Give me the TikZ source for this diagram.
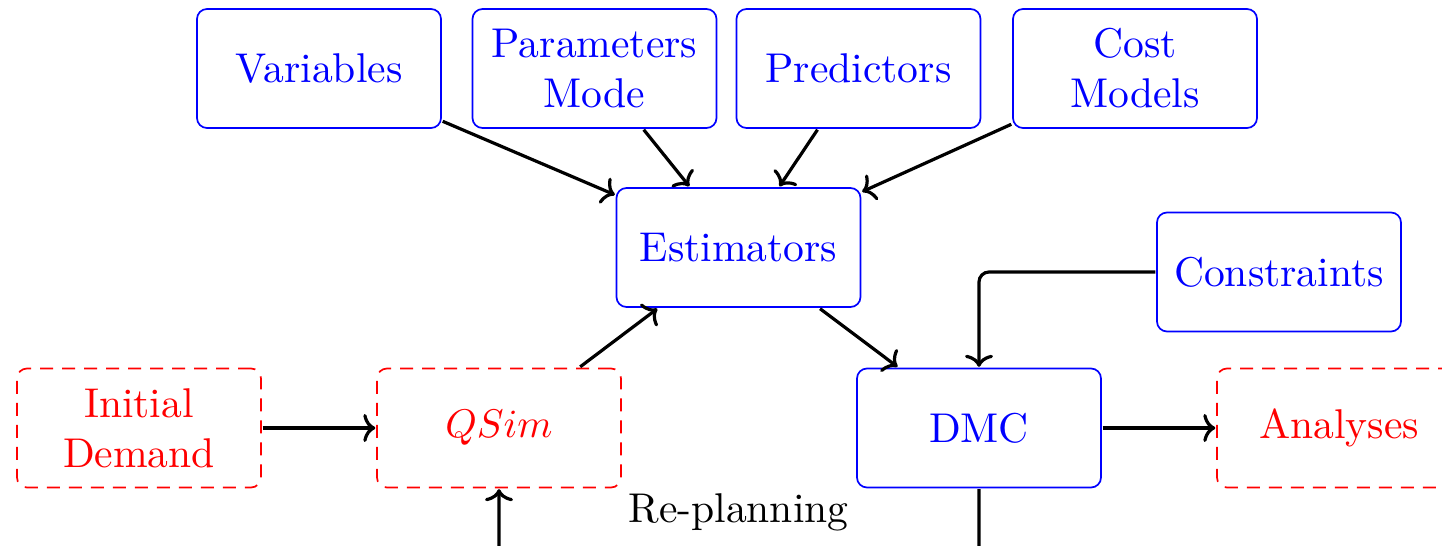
\documentclass[tikz,border=0pt]{standalone}
\usetikzlibrary{arrows.meta}
\begin{document}
\begin{tikzpicture}[x=0.25pt,y=-0.25pt]
\begin{scope}[scale=2, transform shape,
  every node/.style={font=\fontsize{10.4}{12.5}\selectfont},
  bluebox/.style={draw=blue, text=blue, line width=0.85pt, rounded corners=5pt,
    minimum width=61pt, minimum height=29.75pt, align=center, inner sep=0pt},
  redbox/.style={draw=red, text=red, line width=0.85pt, rounded corners=5pt, dash pattern=on 6.5pt off 4.5pt,
    minimum width=61pt, minimum height=29.75pt, align=center, inner sep=0pt},
  conn/.style={-{To[length=6pt,width=14pt]}, line width=1.6pt, black}]
\clip (0,0) rectangle (1442,546);
\fill[white] (0,0) rectangle (1442,546);

\node[bluebox] (var) at (319,68.5) {Variables};
\node[bluebox] (par) at (594.5,68.5) {Parameters\\Mode};
\node[bluebox] (pred) at (858.5,68.5) {Predictors};
\node[bluebox] (cost) at (1135,68.5) {Cost\\Models};
\node[bluebox] (est) at (738.5,247.5) {Estimators};
\node[bluebox] (cons) at (1279,272) {Constraints};
\node[redbox] (init) at (139,428) {Initial\\Demand};
\node[redbox] (qsim) at (499,428) {$QSim$};
\node[bluebox] (dmc) at (979,428) {DMC};
\node[redbox] (ana) at (1339,428) {Analyses};
\node (replan) at (738.5,512) {Re-planning};

\draw[conn] (var) -- (est);
\draw[conn] (par) -- (est);
\draw[conn] (pred) -- (est);
\draw[conn] (cost) -- (est);
\draw[conn] (qsim) -- (est);
\draw[conn] (est) -- (dmc);
\draw[conn, rounded corners=5pt] (cons.west) -| (dmc.north);
\draw[conn] (init) -- (qsim);
\draw[conn] (dmc) -- (ana);
\draw[conn, rounded corners=5pt] (dmc.south) -- ++(0,130) -| (qsim.south);
\end{scope}
\end{tikzpicture}
\end{document}
